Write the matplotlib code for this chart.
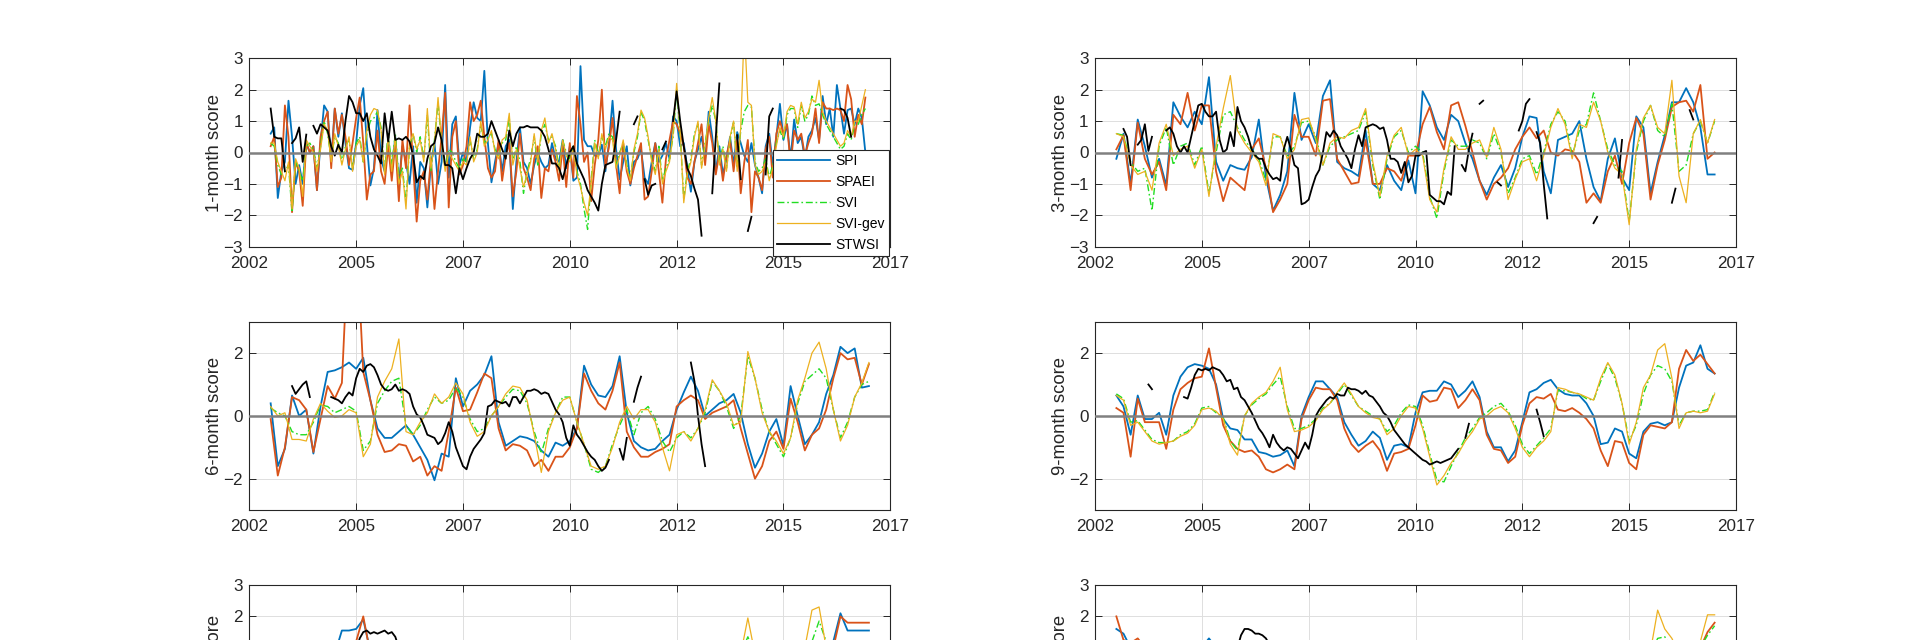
import numpy as np
import matplotlib
matplotlib.use("Agg")
import matplotlib.pyplot as plt

nan = np.nan

# ---------------- time axes (decimal years) ----------------
t_month = 2002.5 + np.arange(168) / 12.0      # monthly, Jul 2002 .. Jun 2016
t_bimonth = 2002.5 + np.arange(85) / 6.0      # every second month

x_ticks = [2002, 2004.5, 2007, 2009.5, 2012, 2014.5, 2017]
x_ticklabels = ['2002', '2005', '2007', '2010', '2012', '2015', '2017']
series_names = ['SPI', 'SPAEI', 'SVI', 'SVI-gev', 'STWSI']
panel_labels = ['1-month score', '3-month score', '6-month score',
                '9-month score', '12-month score', '24-month score']

# ---------------- 1-month (monthly values) ----------------
SPI1 = [0.6, 0.8, -1.45, -0.6, -0.3, 1.65,
        0.5, -1.0, -0.4, -1.0, 0.3, 0.0, 0.2, -1.2, 0.3, 1.5, 1.3, -0.3,
        1.4, 0.5, 1.25, 0.3, -0.5, -0.55, 0.3, 1.5, 2.05, 0.3, -1.05, -0.5,
        1.35, -0.2, -0.6, 0.4, -0.6, 0.5, -1.0, 0.2, -0.3, -1.0, 0.2, -1.6,
        -0.3, -0.5, -1.75, -0.4, 0.3, -1.0, -0.3, 2.15, -0.8, 0.9, 1.15, -0.4,
        0.0, -0.3, 0.8, 1.6, 1.1, 1.0, 2.6, 0.3, -0.95, -0.3, 0.3, -0.6,
        0.2, 0.4, -1.8, -0.3, 0.8, -0.3, -0.5, -1.0, -0.4, 0.0, -0.3, -0.5,
        -0.4, 0.3, -0.2, -0.3, 0.4, -0.5, 0.2, -0.9, -0.8, 2.75, 0.4, 0.2,
        0.2, -0.1, -0.1, 0.25, -0.6, 0.3, 1.65, 0.1, -0.85, -0.3, 0.2, -1.05,
        -0.3, -0.2, 0.1, -0.8, -1.0, -0.3, 0.3, -0.3, -0.1, 0.3, -0.2, 1.15,
        1.0, 0.2, 0.3, -0.5, -1.25, -0.3, 0.1, 0.5, -0.2, 1.3, 0.5, -0.6,
        0.2, -0.7, -0.2, 0.5, -0.4, 0.65, 0.3, -0.1, -0.3, 0.3, -0.4, -0.8,
        -1.3, 0.2, 0.6, -0.4, 0.5, 1.55, 0.4, 0.9, -0.2, 1.05, 0.3, 0.5,
        -0.2, 0.5, 0.7, 1.1, 0.4, 1.8, 0.9, 1.4, 0.5, 2.15, 1.4, 0.6,
        1.35, 1.4, 0.9, 1.4, 1.1, 0.0]
SPAEI1 = [0.2, 0.5, -1.1, -0.8, 1.5, 0.5,
          -1.9, -0.3, -0.6, -1.7, 0.3, 0.0, 0.2, -1.2, 0.5, 1.0, 1.3, -0.5,
          1.4, 0.6, 1.2, 0.5, -0.4, 0.3, 1.1, 1.75, 0.3, -1.5, -0.7, -0.6,
          0.7, -0.6, -1.0, 0.2, -0.9, 0.3, -1.55, 0.4, -0.5, 1.5, -0.4, -2.2,
          -0.9, -0.6, -1.5, -0.2, -1.8, -0.6, 0.5, 1.9, -1.75, 0.5, 1.0, -0.7,
          -0.4, 0.2, 1.6, 1.0, 1.2, 1.65, 0.5, -0.5, -0.8, -0.6, 0.4, -0.9,
          -0.1, 0.3, -1.4, -0.6, 0.6, -0.5, -0.8, -1.2, -0.2, 0.2, -1.45, -0.5,
          -0.6, 0.1, -0.3, -0.9, 0.2, -1.1, 0.3, -0.8, 1.8, 0.9, -0.3, 0.0,
          -1.55, -0.4, 0.4, 2.0, -0.5, 0.2, 1.1, -0.4, -1.3, 0.3, -0.6, -1.0,
          -0.5, -0.1, 0.3, -1.5, -1.4, -0.6, 0.3, -0.6, -1.6, -0.2, 0.4, 1.0,
          0.9, 0.6, 0.2, -0.8, -1.0, -0.3, 0.3, 0.9, -0.4, 0.9, 0.3, -0.7,
          0.0, -0.9, -0.1, 0.4, -0.6, 0.4, -1.3, -0.3, 0.4, -1.9, -0.6, -0.8,
          -1.2, 0.1, 0.5, -0.8, 0.6, 1.0, 0.6, 0.9, -0.4, 0.7, 0.4, 0.6,
          -0.1, 0.3, 0.6, 1.4, 0.3, 1.6, 1.4, 1.4, 1.35, 1.4, 1.35, 1.0,
          2.15, 1.7, 0.5, 1.2, 0.9, 1.75]
SVI1 = [0.3, 0.2, -0.4, -0.7, -0.6, -0.4,
        -1.9, -0.3, -0.6, -0.9, 0.2, 0.3, 0.1, -0.5, 0.2, 1.0, 0.6, -0.2,
        0.5, 0.3, -0.3, 0.2, 0.4, -0.5, 0.3, 0.5, -0.3, 0.6, 1.0, 1.1,
        1.3, 0.8, -0.6, 0.6, -0.4, 0.6, -0.8, -0.5, -1.6, 0.2, 0.6, 0.0,
        0.5, -0.2, 1.2, -0.6, 0.4, 1.6, 0.3, -0.5, 0.1, 0.0, -0.3, -0.5,
        -0.2, -0.3, 0.4, -0.2, 0.1, 0.9, 0.3, 0.5, 0.6, 0.1, -0.1, 0.3,
        0.4, 1.1, -0.3, 0.2, -0.3, -1.3, -0.6, -0.2, 0.5, -0.4, 0.6, 0.9,
        0.4, 0.5, 0.2, -0.5, 0.4, 0.0, -0.2, 0.2, -0.6, -1.0, -1.8, -2.45,
        -0.9, 0.4, -0.1, 0.5, 0.2, 0.6, 0.5, -0.4, 0.0, 0.3, -0.4, -0.8,
        0.0, 0.5, 1.3, 1.0, 0.4, -0.2, -0.6, 0.2, -0.9, -0.5, -0.2, 0.5,
        2.0, 0.6, -1.5, -0.6, -0.2, 0.6, 0.9, -0.4, 0.3, 1.0, 1.5, 1.0,
        -0.3, 0.2, -0.5, 0.4, 1.0, -0.5, 0.7, 1.3, 1.5, 1.45, -0.3, -0.6,
        -0.5, -0.2, -0.8, -0.4, 0.3, 0.7, 0.4, 1.2, 1.4, 1.4, 0.8, 1.5,
        1.0, 1.2, 1.8, 1.5, 1.55, 1.2, 0.9, 0.7, 0.5, 0.3, 0.1, 0.2,
        0.6, 0.4, 0.9, 0.9, 1.2, 1.4]
SVIGEV1 = [0.3, 0.3, -0.3, -0.6, -0.9, -0.3,
           -1.8, -0.2, -0.5, -1.4, 0.4, 0.2, 0.0, -0.6, 0.1, 0.9, 0.7, -0.3,
           0.6, 0.2, -0.4, 0.1, 0.5, -0.6, 0.2, 0.4, -0.3, 0.7, 1.2, 1.4,
           1.35, 0.7, -0.7, 0.5, -0.6, 0.5, -1.0, -0.6, -1.8, 0.3, 0.6, 0.1,
           0.4, -0.3, 1.4, -0.5, 0.3, 1.75, 0.3, -0.6, 0.0, -0.2, -0.4, -0.6,
           -0.3, -0.4, 0.5, -0.3, 0.0, 1.0, 0.2, 0.4, 0.7, 0.0, -0.2, 0.4,
           0.5, 1.25, -0.4, 0.1, -0.5, -1.1, -0.7, -0.3, 0.6, -0.3, 0.7, 1.1,
           0.3, 0.6, 0.1, -0.6, 0.4, -0.1, -0.3, 0.1, -0.7, -1.1, -1.6, -2.0,
           -1.0, 0.3, -0.2, 0.6, 0.1, 0.5, 0.4, -0.5, -0.1, 0.4, -0.5, -0.9,
           0.1, 0.6, 1.35, 1.1, 0.5, -0.3, -0.7, 0.1, -1.0, -0.6, -0.3, 0.6,
           2.2, 0.7, -1.6, -0.7, -0.3, 0.5, 1.0, -0.5, 0.2, 1.1, 1.75, 1.0,
           -0.4, 0.1, -0.6, 0.5, 1.0, -0.6, 0.8, 4.0, 1.6, 1.5, -0.4, -0.7,
           -0.6, -0.3, -0.9, -0.5, 0.2, 0.8, 0.5, 1.3, 1.5, 1.45, 0.9, 1.6,
           1.1, 1.3, 1.7, 1.6, 2.3, 1.3, 1.0, 0.8, 0.6, 0.4, 0.2, 0.3,
           0.7, 0.5, 1.0, 1.0, 1.5, 2.0]
STWSI1 = ([1.4, 0.5, 0.45, 0.45, -0.6, nan,
           0.3, 0.45, 0.8, -0.3, 0.57, nan,
           0.85, 0.6, 0.9, 0.8, 0.7, 0.2, -0.1, 0.25, 0.0, 1.0,
           1.8, 1.6, 1.25, 1.25, 1.0, 1.25, 0.5, 0.1, -0.1, -0.35,
           1.25, 0.35, 1.3, 0.4, 0.45, 0.4, 0.5, 0.35, -0.1, -0.95,
           -0.75, -0.85, -0.2, 0.2, 0.3, 0.8, 0.4, -0.4, -0.4, -0.5,
           -1.3, -0.5, -0.85, -0.5, -0.2, 0.0, 0.6, 0.5, 0.5, 0.6,
           1.0, 0.7, 0.4, 0.1, -0.2, 0.7, 0.2, 0.6, 0.8, 0.8,
           0.85, 0.8, 0.8, 0.8, 0.7, 0.5, 0.1, -0.35, -0.35, -0.5,
           -0.85, -0.4, 0.0, 0.2, -0.35, -0.6, -0.85, -1.2, -1.4, -1.6,
           -1.85, -1.0, -0.4, -0.35, -0.3, 0.4, 1.3,
           nan, nan, nan, 0.9, 1.15, nan, -0.85, -1.35, -1.05, -1.0, nan,
           0.1, 0.35, nan, 1.0, 1.95, 1.0, 0.2, -0.5, -0.75, -1.15, -1.5, -2.65,
           nan, nan, -1.3, 0.5, 2.2, nan, nan, nan, nan, 0.55, -0.85, nan,
           -2.5, -2.05, nan, nan, nan, -0.7, 1.15, 1.4]
          + [nan] * 18 + [1.4, 1.35, 1.1, 0.5] + [nan] * 4)

# ---------------- 3-month (bimonthly; STWSI monthly) ----------------
SPI3 = [-0.2, 0.6, -1.0, 1.05, 0.2, -0.8, -0.2, -1.05, 1.6, 1.15,
        0.8, 1.3, 0.9, 2.4, -0.3, -0.9, -0.4, -0.5, -0.55, -0.15,
        1.05, -0.8, -1.85, -1.35, -0.6, 1.9, 0.4, 0.9, 0.3, 1.8,
        2.3, -0.3, -0.5, -0.6, -0.75, 0.7, -1.0, -1.2, -0.4, -0.9,
        -1.2, -0.25, -1.3, 1.95, 1.5, 0.8, 0.4, 1.2, 1.0, 0.3,
        -0.2, -0.9, -1.35, -0.8, -0.4, -1.1, -0.5, 0.5, 1.15, 1.1,
        -0.6, -1.3, 0.4, 0.5, 0.6, 1.0, -0.2, -1.1, -1.55, -0.2,
        0.45, -0.8, -1.2, 1.15, 0.8, -1.3, -0.3, 0.55, 1.6, 1.6,
        2.05, 1.6, 0.8, -0.7, -0.7]
SPAEI3 = [0.1, 0.55, -1.2, 0.95, -0.2, -0.7, -0.3, -1.2, 1.2, 0.9,
          1.9, 0.7, 1.5, 1.5, -0.6, -1.55, -0.8, -1.0, -1.2, 0.1,
          0.45, -0.5, -1.9, -1.5, -1.0, 1.2, 0.5, 0.5, -0.1, 1.65,
          1.7, -0.2, -0.6, -1.0, -0.95, 0.4, -1.0, -1.0, -0.5, -0.6,
          -0.9, -0.1, -0.1, 0.9, 1.45, 0.65, 0.1, 1.5, 1.6, 0.85,
          0.0, -0.9, -1.5, -1.0, -0.8, -0.5, 0.1, 0.5, 0.8, 0.45,
          0.7, 0.0, -0.1, 0.1, 0.05, -0.3, -1.6, -1.3, -1.6, -0.6,
          -0.1, -1.0, 0.3, 1.1, 0.6, -1.5, -0.4, 0.4, 1.45, 1.6,
          1.65, 1.3, 2.15, -0.2, 0.0]
SVI3 = [0.6, 0.55, -0.3, -0.6, -0.5, -1.85, 0.2, 0.8, -0.4, 0.2,
        0.3, -0.4, 0.2, -1.3, 0.0, 1.2, 1.3, 0.8, 0.4, 0.1,
        -0.2, -0.9, 0.5, 0.5, -0.1, 0.2, 0.95, 1.0, 0.5, -0.4,
        0.2, 0.4, 0.5, 0.6, 0.7, 1.3, -0.4, -1.5, -0.2, 0.5,
        0.7, 0.0, 0.2, 0.0, -1.4, -2.1, -0.6, 0.4, 0.2, 0.2,
        0.4, 0.3, -0.2, 0.6, 0.0, -1.3, -0.8, -0.2, -0.1, -0.7,
        0.0, 0.9, 1.3, 1.0, -0.1, 0.7, 0.9, 1.9, 1.0, 0.1,
        -0.4, -0.6, -2.2, 0.0, 1.0, 1.5, 0.7, 0.5, 1.55, -0.6,
        -0.4, 0.6, 1.0, 0.3, 1.0]
SVIGEV3 = [0.6, 0.5, -0.4, -0.7, -0.6, -1.2, 0.3, 0.9, -0.1, 0.1,
           0.2, -0.5, 0.1, -1.4, 0.2, 1.4, 2.45, 0.7, 0.3, 0.0,
           -0.3, -1.05, 0.6, 0.5, -0.2, 0.1, 1.05, 1.1, 0.4, -0.4,
           0.3, 0.5, 0.45, 0.7, 0.8, 1.4, -0.3, -1.4, -0.1, 0.55,
           0.8, -0.1, 0.1, -0.1, -1.5, -1.9, -0.5, 0.5, 0.1, 0.1,
           0.3, 0.4, -0.15, 0.8, 0.1, -1.5, -0.85, -0.3, -0.2, -0.9,
           -0.1, 0.8, 1.4, 0.9, -0.2, 0.9, 0.8, 1.6, 1.0, 0.0,
           -0.5, -0.7, -2.3, 0.1, 1.1, 1.5, 0.8, 0.6, 2.3, -0.75,
           -1.6, 0.6, 1.05, 0.3, 1.05]
STWSI3 = ([nan, nan, 0.75, 0.5, -0.4, nan, 0.25, 0.4, 0.9, 0.05, 0.5, nan, nan, nan,
           0.7, 0.8, 0.6, 0.2, 0.0, 0.2, 0.0, 0.5, 1.0, 1.5,
           1.55, 1.3, 1.15, 1.15, 1.3, 0.4, 0.0, 0.1, 0.65, 0.2,
           1.45, 1.0, 0.8, 0.5, 0.1, -0.1, -0.2, -0.2, -0.5, -0.7,
           -0.85, -0.8, -0.9, 0.1, 0.5, 0.1, -0.4, -0.5, -1.65, -1.6,
           -1.5, -1.1, -0.75, -0.55, 0.0, 0.65, 0.5, 0.7, 0.55, 0.2,
           0.0, -0.2, -0.5, 0.1, 0.55, 0.2, 0.8, 0.85, 0.9, 0.85,
           0.75, 0.8, 0.4, -0.2, -0.2, -0.3, -0.65, -0.3, -0.95, -0.75,
           -0.1, -0.1, 0.0, 0.05, -1.35, -1.45, -1.55, -1.55, -1.65, -1.25,
           -1.35, 0.2, nan, -0.4, -0.6, 0.1, 0.6, nan, 1.55, 1.65,
           nan, nan, nan, -0.95, -1.05, nan, nan, nan, nan,
           0.7, 1.0, 1.55, 1.7, nan, 0.65, 0.3, -1.0, -2.1]
          + [nan] * 12 + [-2.25, -2.05] + [nan] * 5 + [-0.8, 0.4]
          + [nan] * 13 + [-1.6, -1.15] + [nan] * 3 + [1.35, 1.05] + [nan] * 5)

# ---------------- 6-month ----------------
SPI6 = [0.4, -1.6, -1.05, 0.65, 0.0, 0.2, -1.2, 0.3, 1.4, 1.45,
        1.55, 1.7, 1.5, 1.85, 0.5, -0.4, -0.7, -0.7, -0.5, -0.3,
        -0.6, -1.0, -1.4, -2.05, -1.2, -1.3, 1.2, 0.3, 0.8, 1.0,
        1.3, 1.9, -0.2, -0.95, -0.8, -0.65, -0.7, -0.8, -1.1, -1.3,
        -0.85, -0.95, -0.8, -0.4, 1.6, 1.0, 0.65, 0.6, 0.95, 1.9,
        0.1, -0.8, -1.0, -1.1, -1.05, -0.8, -0.6, 0.2, 0.75, 1.25,
        0.8, 0.0, 0.2, 0.4, 0.5, 0.7, 0.1, -0.9, -1.65, -1.2,
        -0.5, -0.1, -0.95, 0.95, 0.0, -0.9, -0.6, -0.2, 0.7, 1.3,
        2.2, 2.0, 2.15, 0.9, 0.95]
SPAEI6 = [-0.1, -1.9, -1.0, 0.6, 0.5, 0.2, -1.15, -0.1, 0.95, 0.55,
          1.05, 6.0, 6.0, 1.4, 0.5, -0.6, -1.15, -1.1, -0.9, -0.95,
          -1.45, -1.3, -1.9, -1.6, -1.75, -0.5, 0.9, 0.15, 0.2, 0.75,
          1.35, 1.2, -0.4, -1.1, -0.9, -0.95, -1.1, -1.6, -1.4, -1.75,
          -1.3, -1.3, -1.0, -0.4, 1.35, 0.8, 0.4, 0.2, 0.8, 1.7,
          -0.5, -1.0, -1.3, -1.3, -1.15, -1.05, -0.9, 0.3, 0.5, 0.65,
          0.5, -0.1, 0.1, 0.2, 0.3, 0.5, -0.4, -1.2, -2.0, -1.6,
          -0.8, -0.5, -1.05, 0.55, -0.2, -1.1, -0.6, -0.4, 0.2, 1.2,
          2.0, 1.8, 1.85, 1.0, 1.65]
SVI6 = [0.25, 0.1, 0.0, -0.5, -0.6, -0.6, -0.2, 0.35, 0.3, 0.1,
        0.2, 0.3, 0.15, -1.1, -0.8, 0.4, 0.8, 1.1, 1.2, -0.3,
        -0.6, -0.3, 0.2, 0.6, 0.4, 0.5, 0.9, 0.6, -0.1, -0.5,
        -0.4, 0.0, 0.3, 0.6, 0.85, 0.8, 0.4, -0.5, -1.2, -0.4,
        0.1, 0.6, 0.6, -0.2, -0.9, -1.7, -1.8, -1.6, -0.9, -0.3,
        0.2, -0.6, 0.1, 0.3, -0.1, -0.8, -1.15, -0.7, -0.5, -0.7,
        -0.4, 0.1, 1.1, 0.8, 0.3, -0.4, 0.0, 1.9, 1.2, 0.2,
        -0.5, -0.9, -1.3, -0.7, 0.4, 1.1, 1.3, 1.5, 1.2, 0.2,
        -0.7, -0.2, 0.6, 1.0, 1.1]
SVIGEV6 = [0.3, 0.0, 0.1, -0.75, -0.75, -0.8, -0.1, 0.4, 0.15, -0.05,
           0.0, 0.2, 0.1, -1.3, -0.9, 0.6, 1.1, 1.5, 2.45, -0.5,
           -0.6, -0.2, 0.1, 0.7, 0.4, 0.6, 1.05, 0.7, -0.2, -0.65,
           -0.5, 0.0, 0.3, 0.7, 0.95, 0.9, 0.5, -0.6, -1.8, -0.5,
           0.1, 0.5, 0.6, -0.2, -0.9, -1.6, -1.7, -1.6, -1.0, -0.2,
           0.3, -0.1, 0.2, 0.2, -0.2, -1.0, -1.75, -0.6, -0.5, -0.8,
           -0.4, 0.2, 1.15, 0.8, 0.4, -0.3, -0.2, 2.05, 1.2, 0.1,
           -0.5, -0.8, -1.2, -0.7, 0.5, 1.2, 2.0, 2.35, 1.5, 0.2,
           -0.8, -0.3, 0.6, 1.05, 1.7]
STWSI6 = ([nan] * 6 + [0.95, 0.7, 0.85, 1.0, 1.1, 0.6] + [nan] * 5
          + [0.6, 0.55, 0.5, 0.4, 0.6, 0.75, 0.65, 1.2, 1.5, 1.4,
             1.6, 1.65, 1.55, 1.3, 1.0, 0.85, 0.8, 0.85, 1.0, 0.8,
             0.85, 0.8, 0.7, 0.3, 0.05, -0.05, -0.3, -0.6, -0.65, -0.7,
             -0.9, -0.8, -0.55, -0.2, -0.5, -1.0, -1.3, -1.6, -1.7, -1.3,
             -1.05, -0.9, -0.75, -0.55, 0.3, 0.35, 0.5, 0.45, 0.4, 0.45,
             0.3, 0.6, 0.6, 0.4, 0.6, 0.8, 0.8, 0.85, 0.8, 0.7,
             0.75, 0.7, 0.45, 0.2, 0.05, -0.2, -0.7, -0.95, -0.3, -0.6,
             -0.75, -0.95, -1.15, -1.3, -1.4, -1.6, -1.75, -1.65, -1.4]
          + [nan, nan, -1.05, -1.4, -0.7, nan, 0.45, 0.9, 1.25] + [nan] * 13
          + [1.7, 1.1, 0.0, -0.9, -1.6] + [nan] * 45)

# ---------------- 9-month ----------------
SPI9 = [0.65, 0.3, -0.6, 0.65, -0.1, -0.1, 0.1, -0.6, 0.65, 1.25,
        1.55, 1.65, 1.6, 1.5, 1.0, -0.1, -0.4, -0.45, -0.75, -0.75,
        -1.15, -1.2, -1.3, -1.25, -1.1, -1.6, 0.0, 0.6, 1.1, 1.1,
        0.85, 0.6, -0.2, -0.6, -0.95, -0.8, -0.5, -0.7, -1.4, -0.95,
        -0.9, -1.0, 0.1, 0.75, 0.8, 0.8, 1.1, 1.0, 0.6, 0.8,
        1.1, 0.6, -0.5, -1.0, -1.0, -1.45, -1.1, -0.2, 0.75, 0.85,
        1.05, 1.15, 0.85, 0.7, 0.65, 0.65, 0.4, 0.0, -0.9, -0.85,
        -0.4, -0.5, -1.2, -1.35, -0.5, -0.25, -0.2, -0.3, -0.2, 0.9,
        1.6, 1.7, 2.25, 1.5, 1.35]
SPAEI9 = [0.25, 0.1, -1.3, 0.55, -0.2, -0.2, -0.2, -1.05, 0.2, 0.85,
          1.05, 1.2, 1.25, 2.15, 0.9, -0.3, -0.8, -1.05, -1.15, -1.1,
          -1.3, -1.7, -1.8, -1.7, -1.55, -1.7, -0.1, 0.5, 0.9, 0.85,
          0.85, 0.5, -0.4, -0.9, -1.15, -0.95, -0.8, -1.1, -1.75, -1.2,
          -1.15, -1.05, -0.3, 0.65, 0.45, 0.5, 0.9, 0.85, 0.25, 0.5,
          0.85, 0.5, -0.6, -1.05, -1.1, -1.5, -1.3, -0.3, 0.4, 0.6,
          0.55, 0.7, 0.2, 0.15, 0.25, 0.1, -0.1, -0.4, -1.1, -1.6,
          -0.8, -0.85, -1.5, -1.7, -0.6, -0.3, -0.35, -0.4, -0.2, 1.5,
          2.1, 1.75, 1.95, 1.65, 1.35]
SVI9 = [0.7, 0.55, -0.2, -0.15, -0.45, -0.75, -0.85, -0.85, -0.8, -0.6,
        -0.5, -0.25, 0.25, 0.3, 0.1, -0.05, -0.8, -1.1, 0.0, 0.35,
        0.55, 0.7, 1.0, 1.25, 0.3, -0.4, -0.4, -0.3, -0.1, 0.25,
        0.4, 0.7, 1.0, 0.65, 0.3, 0.15, 0.0, -0.1, -0.5, -0.3,
        0.1, 0.35, 0.3, -0.3, -1.2, -2.05, -2.1, -1.6, -1.15, -0.7,
        -0.4, -0.05, 0.1, 0.3, 0.4, 0.15, -0.3, -0.9, -1.2, -0.95,
        -0.7, -0.4, 0.8, 0.8, 0.75, 0.7, 0.55, 0.5, 1.1, 1.65,
        1.2, 0.4, -0.8, -0.3, 0.7, 1.3, 1.6, 1.5, 1.1, -0.3,
        0.1, 0.15, 0.15, 0.2, 0.75]
SVIGEV9 = [0.65, 0.5, -0.3, -0.2, -0.5, -0.8, -0.9, -0.85, -0.8, -0.65,
           -0.55, -0.3, 0.2, 0.25, 0.15, -0.1, -0.9, -1.25, 0.0, 0.4,
           0.6, 0.75, 1.1, 1.55, 0.2, -0.5, -0.45, -0.35, -0.15, 0.2,
           0.4, 0.75, 1.05, 0.7, 0.3, 0.1, -0.05, -0.1, -0.6, -0.4,
           0.0, 0.3, 0.25, -0.4, -1.3, -2.2, -1.9, -1.5, -1.2, -0.8,
           -0.5, -0.1, 0.0, 0.2, 0.3, 0.1, -0.4, -1.0, -1.3, -1.0,
           -0.8, -0.5, 0.9, 0.85, 0.75, 0.7, 0.6, 0.5, 1.2, 1.7,
           1.3, 0.4, -0.9, -0.2, 0.9, 1.3, 2.1, 2.3, 1.2, -0.4,
           0.1, 0.15, 0.1, 0.15, 0.7]
STWSI9 = ([nan] * 9 + [1.0, 0.85] + [nan] * 8
          + [0.6, 0.55, 0.9, 1.3, 1.5, 1.45, 1.5, 1.45, 1.55, 1.5,
             1.45, 1.3, 1.1, 1.15, 0.85, 0.9, 0.6, 0.5, 0.3, 0.1,
             -0.15, -0.4, -0.55, -0.75, -1.0, -0.6, -0.85, -1.0, -1.1, -1.0,
             -1.05, -1.2, -1.35, -1.1, -0.85, -1.05, -0.6, 0.0, 0.2, 0.35,
             0.5, 0.6, 0.55, 0.7, 0.65, 0.65, 0.9, 0.85, 0.85, 0.8,
             0.7, 0.8, 0.65, 0.6, 0.45, 0.3, 0.1, 0.0, -0.2, -0.45,
             -0.6, -0.75, -0.9, -1.0, -1.1, -1.2, -1.3, -1.4, -1.45, -1.55,
             -1.5, -1.45, -1.5, -1.45, -1.4, -1.35, -1.2, -1.05]
          + [nan, -0.7, -0.25] + [nan] * 18 + [0.2, -0.2, -0.65] + [nan] * 47)

# ---------------- 12-month (only the top of the panel is visible) ----------------
SPI12 = [nan] * 9 + [0.8, 1.55, 1.55, 1.6, 1.9, 0.9] + [nan] * 63 + [0.6, 1.2, 2.1, 1.55, 1.55, 1.55, 1.55]
SPAEI12 = [nan] * 12 + [1.2, 2.0, 0.8] + [nan] * 64 + [1.0, 2.0, 1.8, 1.8, 1.8, 1.8]
SVI12 = [nan] * 66 + [0.8, 1.35, 0.8] + [nan] * 7 + [1.2, 1.85, 1.2] + [nan] * 6
SVIGEV12 = [nan] * 66 + [0.8, 1.95, 0.8] + [nan] * 6 + [1.0, 2.2, 2.3, 1.0] + [nan] * 6
STWSI12 = [nan] * 24 + [0.9, 1.3, 1.5, 1.55, 1.45, 1.5, 1.45, 1.5, 1.55, 1.45, 1.5, 1.35, 1.0] + [nan] * 131

# ---------------- 24-month (only the top of the panel is visible) ----------------
SPI24 = [1.6, 1.45, 1.0] + [nan] * 9 + [1.0, 1.3, 1.0] + [nan] * 70
SPAEI24 = [2.0, 1.25, 1.15, 1.3, 1.0] + [nan] * 77 + [1.0, 1.5, 1.8]
SVI24 = [nan] * 75 + [0.8, 1.3, 1.35, 1.0] + [nan] * 3 + [1.0, 1.4, 1.7]
SVIGEV24 = [nan] * 75 + [0.9, 2.2, 1.6, 1.3, 0.8] + [nan] * 2 + [1.2, 2.05, 2.05]
STWSI24 = [nan] * 34 + [1.0, 1.4, 1.6, 1.6, 1.55, 1.45, 1.45, 1.4, 1.3, 1.1, 0.8] + [nan] * 123

# ---------------- styling ----------------
plt.rcParams['font.family'] = ['Liberation Sans', 'DejaVu Sans']
DARK = '#262626'
styles = {
    'SPI': dict(color='#0072BD', lw=1.3, ls='-'),
    'SPAEI': dict(color='#D95319', lw=1.3, ls='-'),
    'SVI': dict(color='#22dd22', lw=1.0, ls=(0, (5, 2, 1.2, 2))),
    'SVI-gev': dict(color='#EDB120', lw=0.9, ls='-'),
    'STWSI': dict(color='black', lw=1.3, ls='-'),
}

panels = [
    (SPI1, SPAEI1, SVI1, SVIGEV1, STWSI1, 'm'),
    (SPI3, SPAEI3, SVI3, SVIGEV3, STWSI3, 'b'),
    (SPI6, SPAEI6, SVI6, SVIGEV6, STWSI6, 'b'),
    (SPI9, SPAEI9, SVI9, SVIGEV9, STWSI9, 'b'),
    (SPI12, SPAEI12, SVI12, SVIGEV12, STWSI12, 'b'),
    (SPI24, SPAEI24, SVI24, SVIGEV24, STWSI24, 'b'),
]

W, H = 1920.0, 640.0
col_left = [249.3, 1095.0]
row_top = [58.3, 321.7, 585.0]
ax_w, ax_h = 641.0, 188.4

fig = plt.figure(figsize=(19.2, 6.4), dpi=100)
fig.patch.set_facecolor('white')

for i, (spi, spaei, svi, svigev, stwsi, res) in enumerate(panels):
    r, c = divmod(i, 2)
    ax = fig.add_axes([col_left[c] / W, 1 - (row_top[r] + ax_h) / H, ax_w / W, ax_h / H])
    t_main = t_month if res == 'm' else t_bimonth
    handles = []
    for name, vals in zip(series_names[:4], [spi, spaei, svi, svigev]):
        st = styles[name]
        h, = ax.plot(t_main, np.array(vals, dtype=float), color=st['color'],
                     lw=st['lw'], linestyle=st['ls'], label=name, zorder=2)
        handles.append(h)
    st = styles['STWSI']
    h, = ax.plot(t_month, np.array(stwsi, dtype=float), color=st['color'],
                 lw=st['lw'], linestyle=st['ls'], label='STWSI', zorder=2.5)
    handles.append(h)
    ax.axhline(0, color='#808080', lw=1.8, zorder=3)

    ax.set_xlim(2002, 2017)
    ax.set_ylim(-3, 3)
    ax.set_xticks(x_ticks)
    ax.set_xticklabels(x_ticklabels)
    if r == 1:
        ax.set_yticks([-2, 0, 2])
    else:
        ax.set_yticks([-3, -2, -1, 0, 1, 2, 3])
    ax.grid(True, color='#dedede', lw=0.7, zorder=0)
    ax.set_axisbelow(True)
    for sp in ax.spines.values():
        sp.set_color(DARK)
        sp.set_linewidth(0.8)
    ax.tick_params(axis='both', direction='in', length=5, width=0.7, colors=DARK,
                   top=True, right=True, labelsize=12.3)
    ax.tick_params(axis='x', pad=6.5)
    ax.tick_params(axis='y', pad=4.5)
    if r == 2:
        # the lower part of the bottom row lies below the figure edge
        ax.tick_params(axis='x', labelbottom=False)
        ax.set_yticklabels(['', '', '', '', '', '2', '3'])
    ax.set_ylabel(panel_labels[i], fontsize=13.3, color=DARK)
    ax.yaxis.set_label_coords(-0.041, 0.5)

    if i == 0:
        leg = ax.legend(handles=handles, loc='upper left',
                        bbox_to_anchor=(773 / W, 1 - 150 / H), bbox_transform=fig.transFigure,
                        fontsize=10, handlelength=3.8, handletextpad=0.4,
                        labelspacing=0.5, borderpad=0.3, borderaxespad=0,
                        fancybox=False, framealpha=1, edgecolor=DARK)
        leg.get_frame().set_linewidth(0.8)
        leg.set_zorder(4)

fig.savefig('out.png', dpi=100, facecolor='white')
